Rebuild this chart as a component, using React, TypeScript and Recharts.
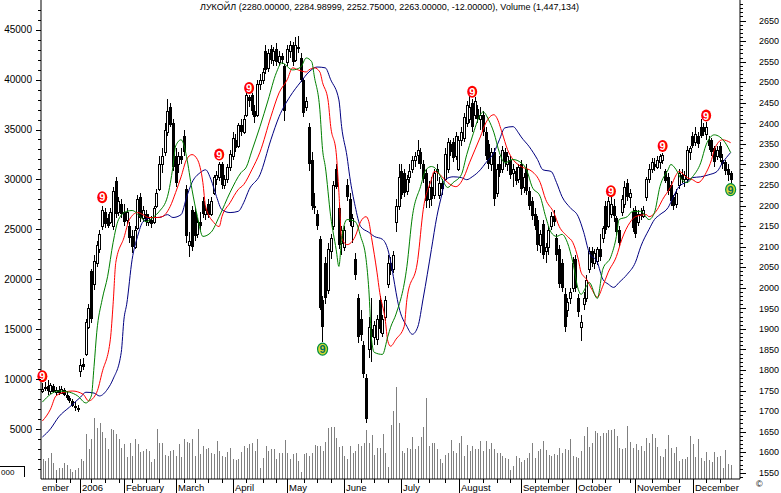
import React from "react"
import { ComposedChart, Bar, Line, XAxis, YAxis } from "recharts"

// daily bars [open, high, low, close], one array per month
const dec05 = [
  [1750, 1768, 1745, 1754], [1756, 1770, 1748, 1759], [1760, 1775, 1740, 1749], [1748, 1768, 1742, 1764],
  [1762, 1765, 1744, 1747], [1746, 1758, 1740, 1751], [1752, 1762, 1740, 1744], [1745, 1760, 1742, 1754],
  [1752, 1756, 1738, 1740], [1740, 1748, 1728, 1732], [1732, 1738, 1720, 1724], [1724, 1730, 1710, 1712],
  [1712, 1722, 1700, 1708], [1708, 1715, 1698, 1703],
]
const jan06 = [
  [1797, 1826, 1782, 1812], [1815, 1830, 1800, 1808], [1840, 1925, 1835, 1918], [1905, 1960, 1900, 1950],
  [2040, 2045, 1915, 1925], [2010, 2080, 1995, 2065], [2060, 2115, 2050, 2105], [2094, 2140, 2085, 2130],
  [2150, 2200, 2140, 2190], [2185, 2195, 2145, 2155], [2170, 2180, 2145, 2150], [2160, 2195, 2155, 2185],
  [2150, 2245, 2140, 2235], [2260, 2270, 2170, 2180], [2185, 2220, 2175, 2210], [2205, 2215, 2170, 2180],
]
const feb06 = [
  [2185, 2205, 2150, 2160], [2165, 2195, 2155, 2185], [2150, 2160, 2110, 2120], [2125, 2140, 2085, 2100],
  [2100, 2150, 2095, 2140], [2145, 2225, 2140, 2215], [2220, 2230, 2160, 2170], [2170, 2200, 2160, 2190],
  [2180, 2190, 2150, 2160], [2160, 2180, 2150, 2170], [2165, 2175, 2145, 2155], [2160, 2200, 2155, 2195],
  [2200, 2240, 2195, 2230], [2240, 2320, 2235, 2300], [2300, 2340, 2280, 2320], [2330, 2400, 2320, 2385],
  [2380, 2460, 2370, 2430], [2440, 2450, 2390, 2395], [2400, 2410, 2285, 2295],
]
const mar06 = [
  [2320, 2340, 2245, 2255], [2300, 2330, 2280, 2320], [2320, 2340, 2300, 2310], [2370, 2385, 2320, 2330],
  [2240, 2250, 2110, 2125], [2105, 2135, 2075, 2115], [2190, 2200, 2090, 2100], [2185, 2195, 2115, 2125],
  [2130, 2170, 2120, 2160], [2160, 2185, 2140, 2150], [2210, 2220, 2170, 2180], [2180, 2200, 2165, 2190],
  [2205, 2215, 2170, 2178], [2180, 2220, 2175, 2210], [2230, 2275, 2225, 2270], [2265, 2285, 2250, 2275],
  [2270, 2305, 2260, 2300], [2300, 2305, 2240, 2250], [2250, 2275, 2240, 2265], [2265, 2300, 2255, 2295],
  [2295, 2335, 2285, 2325],
]
const apr06 = [
  [2320, 2380, 2310, 2365], [2360, 2375, 2330, 2340], [2345, 2400, 2340, 2395], [2395, 2410, 2370, 2380],
  [2380, 2420, 2375, 2410], [2420, 2480, 2415, 2470], [2465, 2468, 2440, 2455], [2470, 2475, 2420, 2430],
  [2430, 2445, 2400, 2415], [2420, 2505, 2415, 2495], [2495, 2520, 2480, 2505], [2505, 2535, 2495, 2525],
  [2575, 2590, 2520, 2530], [2535, 2580, 2525, 2570], [2580, 2590, 2545, 2555], [2555, 2585, 2540, 2575],
  [2580, 2595, 2540, 2550], [2550, 2575, 2540, 2565], [2565, 2570, 2545, 2555], [2540, 2545, 2405, 2430],
]
const may06 = [
  [2550, 2590, 2540, 2580], [2575, 2600, 2560, 2590], [2590, 2598, 2540, 2550], [2555, 2610, 2550, 2590],
  [2585, 2612, 2570, 2580], [2560, 2570, 2500, 2505], [2505, 2510, 2415, 2425], [2440, 2465, 2430, 2455],
  [2390, 2400, 2285, 2300], [2310, 2330, 2190, 2200], [2200, 2230, 2180, 2195], [2180, 2190, 2140, 2150],
  [2118, 2125, 1945, 1950], [1970, 1980, 1868, 1905], [2060, 2075, 1960, 1975], [1995, 2110, 1985, 2095],
  [2090, 2130, 2070, 2120], [2150, 2260, 2140, 2250], [2290, 2300, 2240, 2245], [2195, 2205, 2095, 2105],
  [2110, 2150, 2080, 2140],
]
const jun06 = [
  [2100, 2150, 2090, 2140], [2250, 2265, 2210, 2220], [2215, 2230, 2150, 2160], [2150, 2180, 2110, 2170],
  [2070, 2085, 2020, 2030], [1975, 1985, 1865, 1880], [1925, 1945, 1870, 1885], [1860, 1870, 1780, 1790],
  [1780, 1790, 1670, 1680], [1850, 1930, 1830, 1905], [1900, 1975, 1820, 1880], [1880, 1920, 1860, 1910],
  [1875, 1935, 1860, 1925], [1970, 1980, 1890, 1900], [1890, 1935, 1880, 1925], [1930, 1980, 1920, 1970],
  [2010, 2080, 2000, 2060], [2060, 2075, 2030, 2040], [2045, 2090, 2035, 2080], [2160, 2215, 2135, 2200],
  [2200, 2300, 2190, 2270],
]
const jul06 = [
  [2285, 2300, 2215, 2225], [2280, 2290, 2220, 2230], [2235, 2275, 2225, 2265], [2270, 2300, 2255, 2285],
  [2290, 2320, 2280, 2310], [2310, 2330, 2295, 2320], [2322, 2360, 2300, 2335], [2330, 2340, 2290, 2300],
  [2300, 2310, 2255, 2265], [2280, 2290, 2195, 2210], [2215, 2260, 2195, 2245], [2245, 2270, 2200, 2215],
  [2225, 2290, 2215, 2280], [2285, 2300, 2260, 2290], [2225, 2270, 2215, 2255], [2255, 2265, 2225, 2240],
  [2265, 2340, 2260, 2325], [2290, 2365, 2280, 2355], [2350, 2360, 2320, 2330], [2355, 2365, 2305, 2315],
  [2320, 2380, 2310, 2370],
]
const aug06 = [
  [2290, 2370, 2285, 2360], [2360, 2390, 2345, 2380], [2365, 2425, 2355, 2415], [2400, 2455, 2390, 2445],
  [2410, 2468, 2400, 2440], [2450, 2460, 2380, 2390], [2420, 2465, 2410, 2455], [2435, 2445, 2400, 2410],
  [2410, 2440, 2385, 2420], [2420, 2430, 2370, 2380], [2380, 2390, 2310, 2320], [2350, 2360, 2290, 2300],
  [2300, 2340, 2285, 2330], [2330, 2340, 2200, 2215], [2230, 2300, 2220, 2290], [2300, 2320, 2270, 2280],
  [2290, 2345, 2280, 2335], [2330, 2340, 2295, 2305], [2300, 2330, 2285, 2320], [2310, 2320, 2265, 2275],
  [2280, 2300, 2245, 2290], [2285, 2295, 2250, 2260], [2265, 2300, 2255, 2295],
]
const sep06 = [
  [2300, 2310, 2225, 2240], [2245, 2280, 2230, 2270], [2290, 2300, 2225, 2235], [2235, 2245, 2190, 2200],
  [2210, 2220, 2165, 2175], [2180, 2195, 2140, 2150], [2165, 2175, 2090, 2105], [2105, 2140, 2085, 2130],
  [2155, 2165, 2070, 2080], [2090, 2110, 2060, 2100], [2100, 2150, 2080, 2140], [2150, 2185, 2140, 2175],
  [2175, 2190, 2150, 2160], [2120, 2130, 2065, 2080], [2095, 2105, 2000, 2010], [2060, 2070, 1990, 2000],
  [1985, 2000, 1893, 1905], [1945, 1975, 1930, 1965], [1975, 2000, 1960, 1990], [2000, 2075, 1990, 2060],
]
const oct06 = [
  [2070, 2080, 1990, 2000], [1975, 1985, 1930, 1940], [1905, 1935, 1870, 1918], [1960, 1990, 1945, 1975],
  [1975, 2030, 1965, 2020], [2045, 2100, 2035, 2090], [2090, 2100, 2050, 2060], [2060, 2095, 2045, 2085],
  [2065, 2100, 2055, 2095], [2095, 2130, 2065, 2075], [2120, 2150, 2110, 2145], [2200, 2210, 2130, 2140],
  [2150, 2220, 2145, 2210], [2180, 2220, 2170, 2205], [2200, 2215, 2160, 2175], [2170, 2175, 2125, 2135],
  [2140, 2150, 2100, 2110], [2185, 2225, 2175, 2215], [2205, 2260, 2195, 2245], [2255, 2265, 2210, 2220],
  [2220, 2240, 2195, 2230], [2185, 2195, 2135, 2145],
]
const nov06 = [
  [2190, 2200, 2120, 2130], [2160, 2190, 2150, 2180], [2180, 2195, 2165, 2175], [2175, 2200, 2170, 2190],
  [2220, 2270, 2210, 2265], [2265, 2300, 2255, 2290], [2290, 2315, 2280, 2305], [2300, 2315, 2285, 2295],
  [2295, 2320, 2290, 2310], [2305, 2325, 2290, 2320], [2312, 2328, 2300, 2322], [2285, 2290, 2255, 2260],
  [2270, 2280, 2225, 2235], [2250, 2260, 2200, 2210], [2220, 2225, 2190, 2200], [2205, 2240, 2195, 2230],
  [2250, 2290, 2240, 2280], [2275, 2290, 2255, 2265], [2265, 2285, 2245, 2275], [2265, 2345, 2255, 2335],
  [2330, 2345, 2310, 2340],
]
const dec06 = [
  [2370, 2380, 2340, 2345], [2355, 2390, 2345, 2375], [2370, 2380, 2340, 2350], [2390, 2410, 2365, 2370],
  [2390, 2400, 2370, 2380], [2375, 2404, 2360, 2390], [2360, 2370, 2335, 2345], [2360, 2365, 2320, 2330],
  [2340, 2345, 2295, 2305], [2320, 2345, 2310, 2335], [2345, 2355, 2305, 2315], [2310, 2325, 2290, 2300],
  [2305, 2310, 2275, 2285], [2290, 2300, 2260, 2275], [2280, 2285, 2253, 2263],
]

// volume, thousands of shares (left axis)
const volDec05 = [2040, 1800, 2140, 2570, 1640, 900, 1140, 1100, 1570, 1370, 1000, 700, 900, 1070]
const volJan = [1970, 1800, 4470, 2970, 4040, 6140, 5140, 5570, 4700, 4140, 2970, 5040, 4870, 4470, 3970, 3140]
const volFeb = [3470, 2240, 3570, 2300, 3970, 3470, 2700, 2800, 3040, 2800, 1740, 2040, 5040, 3570, 3570, 2370, 2300, 2800, 2900]
const volMar = [2300, 3470, 2240, 3970, 3740, 3570, 4040, 2300, 5040, 2500, 3300, 2970, 3140, 2640, 2470, 3800, 2800, 2300, 2240, 2700, 3140]
const volApr = [1970, 1900, 1970, 2700, 3300, 3140, 3470, 3570, 2800, 4040, 1140, 2140, 3300, 2800, 3040, 3040, 1970, 2570, 2570, 3900]
const volMay = [2570, 2040, 2470, 2640, 1800, 700, 2470, 2570, 2300, 2570, 3400, 3300, 3300, 2800, 3700, 5140, 5200, 5200, 4140, 3240, 3300]
const volJun = [2300, 2040, 3300, 2570, 2800, 3540, 3300, 3640, 4870, 3640, 4370, 2400, 3140, 3140, 4470, 2640, 1240, 5370, 6800, 9240, 5570]
const volJul = [2800, 2640, 3140, 2970, 4240, 2970, 3300, 4240, 5200, 8140, 3300, 3570, 3640, 2970, 2040, 1570, 2370, 2570, 3900, 2800, 2570]
const volAug = [3570, 4300, 2300, 3400, 2800, 3300, 3040, 2970, 3800, 2800, 3800, 3000, 3570, 2970, 2570, 2570, 2300, 2140, 2040, 900, 1300, 2300, 2140]
const volSep = [1700, 1900, 2140, 2570, 3640, 2070, 2800, 2970, 3800, 2870, 2400, 2300, 2470, 2400, 3140, 2640, 2970, 2870, 3970, 2300]
const volOct = [2170, 2140, 2800, 4300, 5200, 3200, 3640, 4800, 4570, 4300, 4570, 4570, 4870, 4870, 4970, 4300, 3140, 2970, 3140, 5300, 3700, 3140]
const volNov = [3470, 2870, 3300, 2800, 4070, 3570, 4470, 4140, 3200, 2300, 2200, 2970, 4370, 3140, 2570, 3200, 1800, 1970, 2040, 2200, 4300]
const volDec = [3470, 2200, 3970, 2070, 1800, 2740, 1900, 1740, 2740, 2200, 2300, 1140, 2870, 1470, 1447]

// alligator lines, read at [bar index, price]
const lipsPts = [
  [0, 1722], [3, 1741], [6, 1749], [10, 1746], [13, 1737], [16, 1720], [18, 1737], [19, 1809], [20, 1892],
  [22, 1972], [24, 2028], [26, 2110], [28, 2166], [31, 2186], [33, 2188], [36, 2173], [38, 2161], [41, 2173],
  [43, 2186], [46, 2222], [48, 2295], [49, 2345], [51, 2360], [52, 2348], [53, 2319], [55, 2239], [57, 2173],
  [59, 2125], [62, 2135], [65, 2173], [69, 2232], [73, 2280], [75, 2294], [77, 2333], [80, 2392], [83, 2457],
  [86, 2523], [88, 2547], [92, 2530], [95, 2537], [97, 2559], [99, 2550], [100, 2513], [102, 2433], [103, 2336],
  [104, 2295], [106, 2173], [108, 2093], [109, 2052], [110, 2118], [112, 2166], [115, 2161], [117, 2125],
  [119, 2069], [120, 1996], [121, 1875], [122, 1843], [125, 1838], [127, 1882], [128, 1904], [130, 1936],
  [134, 2052], [136, 2173], [139, 2246], [141, 2287], [143, 2295], [145, 2287], [147, 2263], [149, 2244],
  [151, 2256], [154, 2275], [156, 2324], [158, 2367], [161, 2421], [162, 2428], [164, 2409], [166, 2377],
  [168, 2329], [170, 2304], [173, 2312], [176, 2304], [178, 2287], [180, 2246], [183, 2222], [185, 2173],
  [187, 2135], [189, 2125], [191, 2130], [193, 2110], [195, 2062], [197, 1996], [198, 1984], [200, 2004],
  [201, 2013], [204, 1974], [206, 2045], [209, 2076], [211, 2125], [212, 2166], [215, 2173], [217, 2186],
  [220, 2186], [223, 2166], [225, 2183], [227, 2246], [230, 2287], [231, 2300], [233, 2287], [235, 2263],
  [237, 2256], [239, 2270], [242, 2304], [244, 2348], [247, 2372], [249, 2367], [251, 2353], [253, 2329],
]
const teethPts = [
  [0, 1676], [3, 1705], [5, 1737], [8, 1746], [11, 1749], [15, 1741], [17, 1725], [20, 1746], [22, 1795],
  [25, 1875], [26, 1960], [27, 2062], [30, 2122], [32, 2166], [35, 2183], [37, 2178], [39, 2171], [42, 2171],
  [44, 2173], [47, 2198], [49, 2232], [51, 2270], [53, 2312], [55, 2324], [57, 2312], [59, 2256], [60, 2198],
  [63, 2159], [65, 2149], [66, 2173], [69, 2207], [72, 2239], [74, 2251], [77, 2287], [80, 2330], [84, 2416],
  [87, 2474], [90, 2506], [92, 2535], [94, 2530], [97, 2525], [98, 2530], [100, 2535], [102, 2525], [103, 2499],
  [105, 2457], [106, 2392], [108, 2329], [109, 2232], [110, 2122], [112, 2105], [115, 2125], [117, 2161],
  [119, 2173], [120, 2161], [121, 2122], [123, 2038], [124, 1989], [126, 1924], [127, 1870], [128, 1858],
  [130, 1875], [133, 1906], [134, 1972], [138, 2069], [140, 2190], [143, 2263], [144, 2283], [147, 2270],
  [149, 2256], [152, 2246], [155, 2270], [157, 2304], [161, 2367], [163, 2401], [166, 2421], [167, 2414],
  [169, 2377], [171, 2336], [173, 2312], [176, 2295], [180, 2283], [183, 2256], [185, 2215], [188, 2183],
  [190, 2149], [193, 2125], [195, 2110], [197, 2069], [198, 2038], [200, 2021], [202, 1996], [204, 1977],
  [206, 2004], [208, 2038], [211, 2076], [213, 2118], [216, 2159], [218, 2173], [222, 2178], [223, 2173],
  [226, 2190], [228, 2215], [231, 2246], [233, 2275], [234, 2283], [237, 2268], [239, 2263], [241, 2256],
  [244, 2280], [246, 2312], [247, 2336], [250, 2360], [253, 2353],
]
const jawPts = [
  [0, 1637], [3, 1657], [6, 1686], [10, 1710], [14, 1734], [16, 1746], [19, 1744], [21, 1737], [24, 1754],
  [26, 1778], [29, 1843], [30, 1924], [31, 1960], [33, 2069], [35, 2125], [37, 2161], [40, 2171], [43, 2171],
  [46, 2178], [48, 2171], [51, 2178], [53, 2220], [55, 2256], [58, 2280], [60, 2287], [62, 2263], [64, 2222],
  [66, 2190], [69, 2183], [72, 2186], [74, 2207], [76, 2239], [80, 2275], [84, 2360], [87, 2416], [91, 2465],
  [95, 2501], [98, 2525], [101, 2537], [104, 2535], [106, 2506], [109, 2457], [110, 2392], [112, 2319],
  [113, 2270], [115, 2198], [117, 2149], [120, 2135], [122, 2125], [125, 2118], [127, 2093], [129, 2028],
  [130, 1989], [131, 1955], [134, 1906], [136, 1887], [138, 1905], [140, 1975], [143, 2093], [145, 2173],
  [147, 2232], [148, 2263], [151, 2270], [154, 2268], [156, 2263], [158, 2270], [161, 2287], [163, 2304],
  [166, 2329], [168, 2360], [170, 2389], [173, 2392], [175, 2377], [176, 2367], [179, 2343], [182, 2312],
  [184, 2287], [187, 2283], [189, 2256], [191, 2222], [194, 2195], [197, 2173], [199, 2135], [201, 2086],
  [204, 2062], [206, 2021], [208, 2009], [210, 2001], [212, 2013], [215, 2033], [218, 2062], [220, 2101],
  [223, 2142], [225, 2166], [227, 2178], [230, 2195], [232, 2222], [234, 2246], [237, 2258], [239, 2268],
  [242, 2270], [245, 2275], [248, 2283], [250, 2304], [253, 2329],
]

// "9" signals: above highs (red) and below lows (green)
const nineUp = [[0, 1785], [22, 2220], [65, 2324], [76, 2486], [158, 2477], [209, 2235], [228, 2345], [244, 2419]]
const nineDown = [[103, 1851], [253, 2239]]

const monthStarts = [14, 30, 49, 70, 90, 111, 132, 153, 176, 196, 218, 239]
const monthLabels = ["2006", "February", "March", "April", "May", "June", "July", "August", "September", "October", "November", "December"]
const weekTicks = [5, 10, 18, 23, 28, 33, 38, 43, 52, 56, 61, 66, 75, 81, 86, 96, 101, 106, 117, 122, 127, 138, 142, 148, 157, 162, 167, 172, 181, 186, 191, 202, 207, 212, 216, 224, 230, 234, 244, 249]

const title = "ЛУКОЙЛ (2280.00000, 2284.98999, 2252.75000, 2263.00000, -12.00000), Volume (1,447,134)"

const ohlc = [...dec05, ...jan06, ...feb06, ...mar06, ...apr06, ...may06, ...jun06, ...jul06, ...aug06, ...sep06, ...oct06, ...nov06, ...dec06]
const volume = [...volDec05, ...volJan, ...volFeb, ...volMar, ...volApr, ...volMay, ...volJun, ...volJul, ...volAug, ...volSep, ...volOct, ...volNov, ...volDec]

const at = (pts: number[][], i: number) => {
  const f = pts.find((p) => p[0] === i)
  return f ? f[1] : null
}

const data = ohlc.map(([o, h, l, c], i) => ({
  i, o, h, l, c,
  range: [l, h],
  vol: volume[i] ?? 0,
  lips: at(lipsPts, i),
  teeth: at(teethPts, i),
  jaw: at(jawPts, i),
  up9: at(nineUp, i),
  dn9: at(nineDown, i),
}))

const xTicks = [0, ...monthStarts, ...weekTicks].sort((a, b) => a - b)
const volTicks: number[] = []
for (let v = 1000; v <= 47000; v += 1000) volTicks.push(v)
const pxTicks: number[] = []
for (let v = 1540; v <= 2690; v += 10) pxTicks.push(v)

const AXIS_Y = 479
const FONT = "'Liberation Sans', Arial, sans-serif"

function Candle(props: any) {
  const { x, y, width, height, payload } = props
  if (x == null || payload == null) return <g />
  const top = Math.min(y, y + height)
  const span = Math.abs(height)
  const { o, h, l, c } = payload
  const py = (v: number) => (h === l ? top : top + ((h - v) / (h - l)) * span)
  const cx = Math.round(x + width / 2)
  const b0 = Math.round(Math.min(py(o), py(c)))
  const b1 = Math.round(Math.max(py(o), py(c)))
  const up = c >= o
  return (
    <g shapeRendering="crispEdges">
      <line x1={cx + 0.5} x2={cx + 0.5} y1={Math.round(top)} y2={Math.round(top + span)} stroke="#000" />
      {up ? (
        <rect x={cx - 0.5} y={b0 + 0.5} width={2} height={Math.max(b1 - b0, 1)} fill="#fff" stroke="#000" />
      ) : (
        <rect x={cx - 1} y={b0} width={3} height={Math.max(b1 - b0, 1)} fill="#000" />
      )}
    </g>
  )
}

function VolBar(props: any) {
  const { x, y, width, height } = props
  if (x == null) return <g />
  return <rect x={Math.round(x + width / 2)} y={Math.round(y)} width={1} height={Math.max(Math.round(height), 0)} fill="#808080" />
}

function NineUp(props: any) {
  const { cx, cy, value, index } = props
  if (value == null || cy == null) return <g key={index} />
  return (
    <g key={index}>
      <ellipse cx={cx} cy={cy} rx={5} ry={6} fill="#ff0000" />
      <text x={cx} y={cy + 4} textAnchor="middle" fontSize={11} fontWeight="bold" fill="#fff" fontFamily={FONT}>9</text>
    </g>
  )
}

function NineDown(props: any) {
  const { cx, cy, value, index } = props
  if (value == null || cy == null) return <g key={index} />
  return (
    <g key={index}>
      <ellipse cx={cx} cy={cy} rx={5} ry={6} fill="#d8d830" stroke="#009040" strokeWidth={1.2} />
      <text x={cx} y={cy + 4} textAnchor="middle" fontSize={11} fontWeight="bold" fill="#007060" fontFamily={FONT}>9</text>
    </g>
  )
}

function XTick(props: any) {
  const { x, payload } = props
  const v = payload.value
  const px = Math.round(x) + 0.5
  if (v === 0) {
    return <text x={42} y={491} fontSize={9.5} fill="#000" fontFamily={FONT}>ember</text>
  }
  const mi = monthStarts.indexOf(v)
  if (mi >= 0) {
    return (
      <g>
        <line x1={px} x2={px} y1={AXIS_Y} y2={493} stroke="#000" />
        <text x={px + 1.5} y={491} fontSize={9.5} fill="#000" fontFamily={FONT}>{monthLabels[mi]}</text>
      </g>
    )
  }
  return <line x1={px} x2={px} y1={AXIS_Y} y2={AXIS_Y + 4} stroke="#000" />
}

function LeftTick(props: any) {
  const { y, payload } = props
  const v = payload.value
  const major = v % 5000 === 0
  const yy = Math.round(y) + 0.5
  return (
    <g>
      <line x1={major ? 36 : 38} x2={41} y1={yy} y2={yy} stroke="#000" />
      {major && (
        <text x={32} y={y + 3.5} textAnchor="end" fontSize={10} fill="#000" fontFamily={FONT}>{v}</text>
      )}
    </g>
  )
}

function RightTick(props: any) {
  const { y, payload } = props
  const v = payload.value
  const major = v % 50 === 0
  const yy = Math.round(y) + 0.5
  return (
    <g>
      <line x1={740} x2={major ? 746 : 743} y1={yy} y2={yy} stroke="#000" />
      {major && (
        <text x={759} y={y + 3.2} fontSize={9} fill="#000" fontFamily={FONT}>{v}</text>
      )}
    </g>
  )
}

export default function App() {
  return (
    <div style={{ position: "absolute", left: 0, top: 0, width: 781, height: 493, background: "#fff", fontFamily: FONT }}>
      <ComposedChart width={781} height={493} data={data} margin={{ top: 0, right: 0, bottom: 0, left: 0 }}>
        <XAxis
          xAxisId="main"
          dataKey="i"
          type="category"
          ticks={xTicks}
          interval={0}
          tick={<XTick />}
          tickLine={false}
          axisLine={{ stroke: "#000" }}
          height={14}
          padding={{ left: 0, right: 8 }}
        />
        <XAxis xAxisId="vol" dataKey="i" type="category" hide padding={{ left: 0, right: 8 }} />
        <YAxis
          yAxisId="vol"
          orientation="left"
          domain={[0, 47970]}
          allowDataOverflow
          ticks={volTicks}
          interval={0}
          tick={<LeftTick />}
          tickLine={false}
          axisLine={{ stroke: "#000" }}
          width={41}
        />
        <YAxis
          yAxisId="px"
          orientation="right"
          domain={[1535, 2700]}
          allowDataOverflow
          ticks={pxTicks}
          interval={0}
          tick={<RightTick />}
          tickLine={false}
          axisLine={{ stroke: "#000" }}
          width={41}
        />
        <Bar xAxisId="vol" yAxisId="vol" dataKey="vol" barSize={1} shape={<VolBar />} isAnimationActive={false} />
        <Bar xAxisId="main" yAxisId="px" dataKey="range" barSize={3} shape={<Candle />} isAnimationActive={false} />
        <Line xAxisId="main" yAxisId="px" dataKey="jaw" type="monotone" stroke="#000080" strokeWidth={1} dot={false} connectNulls isAnimationActive={false} />
        <Line xAxisId="main" yAxisId="px" dataKey="teeth" type="monotone" stroke="#ff0000" strokeWidth={1} dot={false} connectNulls isAnimationActive={false} />
        <Line xAxisId="main" yAxisId="px" dataKey="lips" type="monotone" stroke="#008000" strokeWidth={1} dot={false} connectNulls isAnimationActive={false} />
        <Line xAxisId="main" yAxisId="px" dataKey="up9" stroke="none" dot={<NineUp />} activeDot={false} isAnimationActive={false} />
        <Line xAxisId="main" yAxisId="px" dataKey="dn9" stroke="none" dot={<NineDown />} activeDot={false} isAnimationActive={false} />
      </ComposedChart>
      <div style={{ position: "absolute", left: 200, top: 2, fontSize: 9, color: "#000", whiteSpace: "nowrap" }}>{title}</div>
      <div style={{ position: "absolute", left: 0, top: 466, width: 25, height: 11, borderTop: "1px solid #000", borderRight: "1px solid #000", fontSize: 8, lineHeight: "11px", paddingLeft: 1, boxSizing: "border-box" }}>000</div>
      <div style={{ position: "absolute", left: 756, top: 479, fontSize: 9 }}>©</div>
    </div>
  )
}
